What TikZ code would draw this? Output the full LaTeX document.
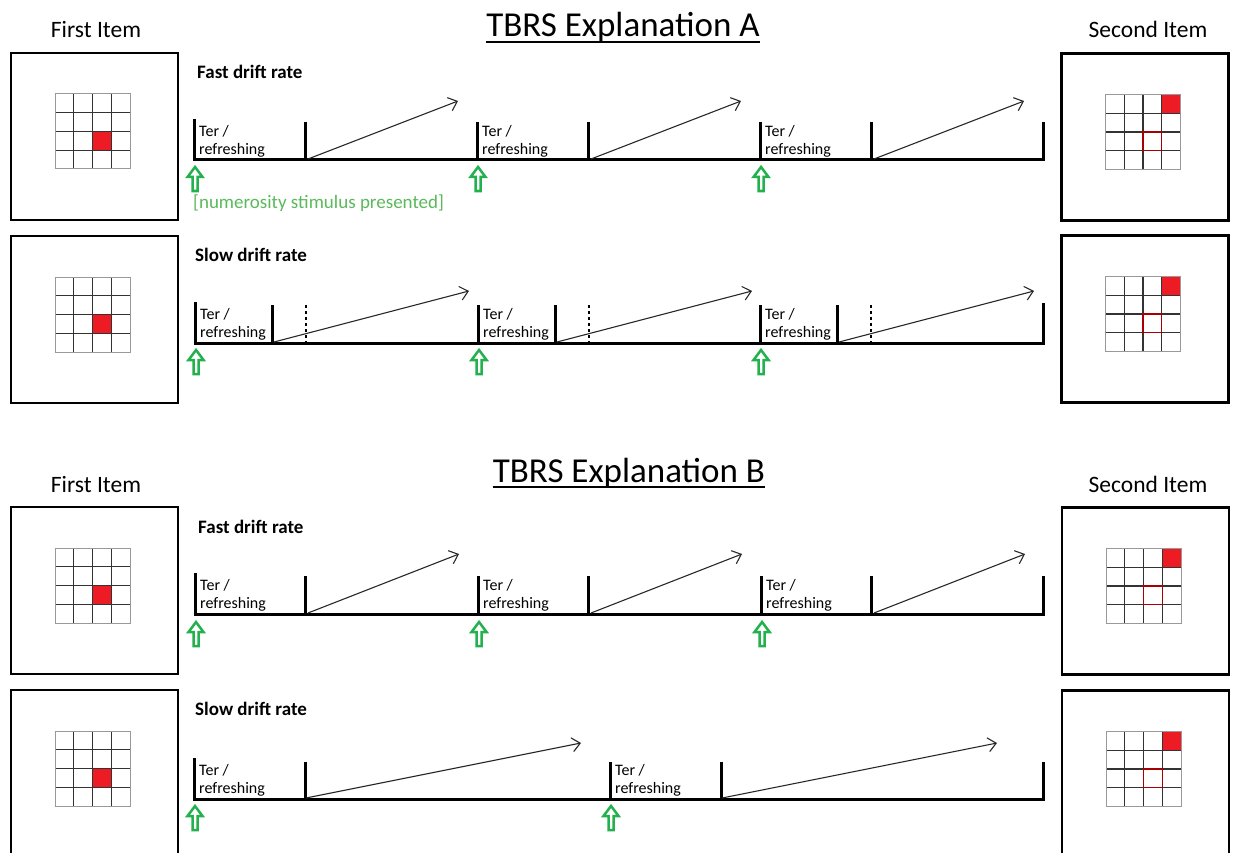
\documentclass[tikz,border=0pt]{standalone}
\usepackage{fontspec}
\setmainfont{Carlito}
\usetikzlibrary{arrows.meta}
\definecolor{cellred}{RGB}{237,28,36}
\definecolor{upgreen}{RGB}{34,177,76}
\definecolor{notegreen}{RGB}{90,185,90}
\definecolor{driftgray}{RGB}{40,40,40}
\tikzset{
  itembox/.style={draw, line width=2.8pt, minimum width=167pt, minimum height=167pt, inner sep=0pt},
  itemlabel/.style={font=\fontsize{23.5}{28}\selectfont, anchor=base, inner sep=0pt},
  headline/.style={font=\fontsize{35}{42}\selectfont, anchor=base, inner sep=0pt},
  ratelabel/.style={font=\fontsize{19}{22}\selectfont\bfseries, anchor=base west, inner sep=0pt},
  terlabel/.style={font=\fontsize{16}{18}\selectfont, align=left, anchor=south west, inner sep=0pt},
  timeline/.style={line width=3pt},
  splitline/.style={line width=2pt, dash pattern=on 3pt off 3pt},
  drift/.style={->, draw=driftgray, line width=1.1pt},
  gridin/.style={draw=black!80, line width=1.4pt},
  gridout/.style={draw=black!40, line width=1pt},
  onset/.style={draw=upgreen, line width=2.5pt},
  firstgrid/.pic={
    \fill[cellred] (0,0) rectangle (18.75,18.75);
    \foreach \k in {-18.75,0,18.75} {
      \draw[gridin] (\k,-37.5) -- (\k,37.5);
      \draw[gridin] (-37.5,\k) -- (37.5,\k);
    }
    \draw[gridout] (-37.5,-37.5) rectangle (37.5,37.5);
  },
  secondgrid/.pic={
    \fill[cellred] (18.75,-37.5) rectangle (37.5,-18.75);
    \foreach \k in {-18.75,0,18.75} {
      \draw[gridin] (\k,-37.5) -- (\k,37.5);
      \draw[gridin] (-37.5,\k) -- (37.5,\k);
    }
    \draw[red!65!black, line width=1.3pt] (0,0) rectangle (18.75,18.75);
    \draw[gridout] (-37.5,-37.5) rectangle (37.5,37.5);
  },
  upmark/.pic={
    \draw[onset] (0,0) -- (7.5,10) -- (2.5,10) -- (2.5,24) -- (-2.5,24) -- (-2.5,10) -- (-7.5,10) -- cycle;
  }
}
\begin{document}
\begin{tikzpicture}[x=1pt, y=-1pt, >={Straight Barb[length=8pt,width=14pt]}]
    \useasboundingbox (0,0) rectangle (1233,853);
    \clip (0,0) rectangle (1233,853);

    % explanation A
    \node[headline] (titleA) at (623,37) {TBRS Explanation A};
    \draw[line width=1.5pt] ([yshift=-5pt]titleA.base west) -- ([yshift=-5pt]titleA.base east);
    \node[itemlabel] (firstlabA) at (96,38) {First Item};
    \node[itemlabel] (secondlabA) at (1148,38) {Second Item};
    \node[itembox] (firstA1) at (94.5,136.5) {};
    \node[itembox] (firstA2) at (94.5,319.5) {};
    \node[itembox] (secondA1) at (1145,137) {};
    \node[itembox] (secondA2) at (1145,319) {};
    \pic at ([xshift=-2pt,yshift=5pt]firstA1.center) {firstgrid};
    \pic at ([xshift=-2pt,yshift=5pt]firstA2.center) {firstgrid};
    \pic at ([xshift=-2pt,yshift=5pt]secondA1.center) {secondgrid};
    \pic at ([xshift=-2pt,yshift=5pt]secondA2.center) {secondgrid};

    \node[ratelabel] (fastA) at (197,79) {Fast drift rate};
    \draw[timeline] (194,119) -- (194,160) -- (1043,160) -- (1043,122);
    \foreach \s [count=\i] in {194,477,760} {
        \draw[timeline] (\s,122) -- (\s,160);
        \draw[timeline] (\s+111,122) -- (\s+111,160);
        \node[terlabel] (terfA\i) at (\s+5,157) {Ter /\\refreshing};
        \coordinate (dfsA\i) at (\s+114,159);
        \coordinate (dfeA\i) at (\s+264,101);
        \draw[drift] (dfsA\i) -- (dfeA\i);
        \pic at (\s+1,167) {upmark};
    }
    \node[font=\fontsize{19}{22}\selectfont, text=notegreen, anchor=base west, inner sep=0pt] (onsetnote) at (193,208) {[numerosity stimulus presented]};

    \node[ratelabel] (slowA) at (195,261) {Slow drift rate};
    \draw[timeline] (195,302) -- (195,343) -- (1043,343) -- (1043,303);
    \foreach \s [count=\i] in {195,478,760} {
        \draw[timeline] (\s,305) -- (\s,343);
        \draw[timeline] (\s+77,305) -- (\s+77,343);
        \draw[splitline] (\s+111,305) -- (\s+111,343);
        \node[terlabel] (tersA\i) at (\s+5,340) {Ter /\\refreshing};
        \coordinate (dssA\i) at (\s+79,342);
        \coordinate (dseA\i) at (\s+274,291);
        \draw[drift] (dssA\i) -- (dseA\i);
        \pic at (\s+1,350) {upmark};
    }

    % explanation B
    \node[headline] (titleB) at (629,482) {TBRS Explanation B};
    \draw[line width=1.5pt] ([yshift=-5pt]titleB.base west) -- ([yshift=-5pt]titleB.base east);
    \node[itemlabel] (firstlabB) at (96,492) {First Item};
    \node[itemlabel] (secondlabB) at (1148,492) {Second Item};
    \node[itembox] (firstB1) at (94.5,590.5) {};
    \node[itembox] (firstB2) at (94.5,773.5) {};
    \node[itembox] (secondB1) at (1145.5,591) {};
    \node[itembox] (secondB2) at (1145.5,774) {};
    \pic at ([xshift=-2pt,yshift=5pt]firstB1.center) {firstgrid};
    \pic at ([xshift=-2pt,yshift=5pt]firstB2.center) {firstgrid};
    \pic at ([xshift=-2pt,yshift=5pt]secondB1.center) {secondgrid};
    \pic at ([xshift=-2pt,yshift=5pt]secondB2.center) {secondgrid};

    \node[ratelabel] (fastB) at (198,533) {Fast drift rate};
    \draw[timeline] (195,573) -- (195,614) -- (1043,614) -- (1043,576);
    \foreach \s [count=\i] in {195,478,761} {
        \draw[timeline] (\s,576) -- (\s,614);
        \draw[timeline] (\s+110,576) -- (\s+110,614);
        \node[terlabel] (terfB\i) at (\s+5,611) {Ter /\\refreshing};
        \coordinate (dfsB\i) at (\s+113,613);
        \coordinate (dfeB\i) at (\s+264,554);
        \draw[drift] (dfsB\i) -- (dfeB\i);
        \pic at (\s+1,622) {upmark};
    }

    \node[ratelabel] (slowB) at (195,715) {Slow drift rate};
    \draw[timeline] (194,758) -- (194,799) -- (1043,799) -- (1043,762);
    \foreach \s [count=\i] in {194,610} {
        \draw[timeline] (\s,762) -- (\s,799);
        \draw[timeline] (\s+111,762) -- (\s+111,799);
        \node[terlabel] (tersB\i) at (\s+5,796) {Ter /\\refreshing};
        \coordinate (dssB\i) at (\s+112,798);
        \coordinate (dseB\i) at (\s+387,743);
        \draw[drift] (dssB\i) -- (dseB\i);
        \pic at (\s+1,806) {upmark};
    }
\end{tikzpicture}
\end{document}
